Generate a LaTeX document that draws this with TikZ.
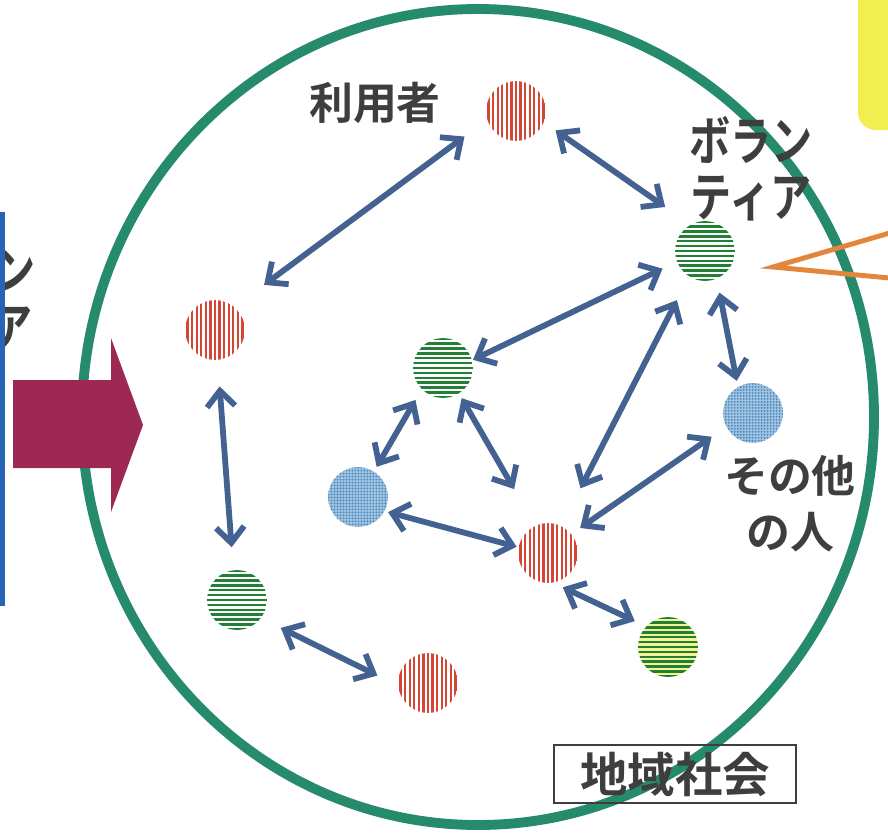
\documentclass[tikz,border=0pt]{standalone}
\usepackage{fontspec}
\newfontfamily\jpfont{Noto Sans CJK JP Bold}
\newfontfamily\jpnarrow{Noto Sans CJK JP Bold}[FakeStretch=0.78]
\usepackage{tikz}
\usetikzlibrary{arrows.meta, patterns.meta}
\usepackage{xcolor}

\definecolor{ringgreen}{RGB}{38,138,108}
\definecolor{linkblue}{RGB}{68,98,145}
\definecolor{stripered}{RGB}{214,70,52}
\definecolor{stripegreen}{RGB}{34,128,52}
\definecolor{dotblue}{RGB}{80,136,188}
\definecolor{paleblue}{RGB}{160,196,226}
\definecolor{labelgray}{RGB}{62,62,62}
\definecolor{arrowred}{RGB}{158,40,84}
\definecolor{sideblue}{RGB}{40,100,180}
\definecolor{noteyellow}{RGB}{240,238,80}
\definecolor{calloutorange}{RGB}{226,134,60}

\begin{document}
\begin{tikzpicture}[
    x=0.02cm, y=-0.02cm,
    dot/.style={circle, minimum size=34pt, inner sep=0pt},
    usr/.style={dot, path picture={
        \foreach \k in {-7,...,7}
          \draw[stripered, line width=1.3pt]
            ([xshift=\k*2.6pt]path picture bounding box.north) -- ([xshift=\k*2.6pt]path picture bounding box.south);
      }},
    vol/.style={dot, path picture={
        \foreach \k in {-6,...,6}
          \draw[stripegreen, line width=1.5pt]
            ([yshift=\k*2.8pt]path picture bounding box.west) -- ([yshift=\k*2.8pt]path picture bounding box.east);
      }},
    oth/.style={dot, preaction={fill=paleblue}, pattern={Dots[distance=1.7pt, radius=0.6pt]}, pattern color=dotblue},
    link/.style={{Straight Barb[length=9pt, width=16pt]}-{Straight Barb[length=9pt, width=16pt]}, line width=3.3pt, draw=linkblue},
    lbl/.style={text=labelgray, font=\jpfont\fontsize{25pt}{31.7pt}\selectfont, align=center, inner sep=0pt},
    kana/.style={lbl, font=\jpnarrow\fontsize{30pt}{31.7pt}\selectfont}
]
\useasboundingbox (0,0) rectangle (888,835);
\clip (0,0) rectangle (888,835);
\fill[white] (0,0) rectangle (888,835);

% Neighbouring panels
\fill[noteyellow, rounded corners=10pt] (858,-30) rectangle (930,130);
\node[kana, anchor=east] (cutA) at (36,270) {ン};
\node[kana, anchor=east] (cutB) at (33,328) {ア};
\fill[sideblue] (0,212) rectangle (5,606);

% Community ring
\draw[ringgreen, line width=5.6pt] (478,417) ellipse [x radius=396, y radius=408];

% Entry arrow and callout
\fill[arrowred] (13,380) -- (111,380) -- (111,338) -- (143,425) -- (111,512) -- (111,468) -- (13,468) -- cycle;
\draw[calloutorange, line width=2.8pt, line join=miter] (900,230) -- (773,267) -- (900,279);

% People
\node[usr] (usr1) at (516,111) {};
\node[usr] (usr2) at (215,330) {};
\node[usr] (usr3) at (548,553) {};
\node[usr] (usr4) at (428,683) {};
\node[vol] (vol1) at (705,251) {};
\node[vol] (vol2) at (443,368) {};
\node[vol] (vol3) at (237,600) {};
\node[vol, preaction={fill=noteyellow!60}] (vol4) at (668,647) {};
\node[oth] (oth1) at (753,413) {};
\node[oth] (oth2) at (358,497) {};

% Labels
\node[lbl] (lblusr) at (375,103) {利用者};
\node[kana] (lblvol) at (751,169) {ボラン\\ティア};
\node[lbl] (lbloth) at (790,504) {その他\\の人};
\node[draw=labelgray, line width=1.2pt, text=labelgray, font=\jpfont\fontsize{27pt}{32pt}\selectfont,
      minimum width=138pt, minimum height=33pt, inner sep=0pt] (region) at (675,774) {地域社会};

% Links
\draw[link, shorten <=21pt, shorten >=16pt] (usr2.50) -- (usr1.197);
\draw[link, shorten <=8pt, shorten >=17.5pt] (usr1.-22) -- (vol1.119);
\draw[link, shorten <=9pt, shorten >=0.5pt] (vol1.201) -- (vol2.15);
\draw[link, shorten <=15pt, shorten >=24pt] (vol1.238) -- (usr3.64);
\draw[link, shorten <=8pt, shorten >=3.5pt] (vol1.-67) -- (oth1.120);
\draw[link, shorten <=7pt, shorten >=3pt] (vol2.225) -- (oth2.58);
\draw[link, shorten <=3pt, shorten >=24pt] (vol2.-58) -- (usr3.115);
\draw[link, shorten <=2pt, shorten >=1pt] (oth2.-28) -- (usr3.169);
\draw[link, shorten <=6pt, shorten >=10pt] (usr3.39) -- (oth1.207);
\draw[link, shorten <=6pt, shorten >=7pt] (usr3.-80) -- (vol4.137);
\draw[link, shorten <=15pt, shorten >=13pt] (usr2.-85) -- (vol3.97);
\draw[link, shorten <=12.5pt, shorten >=13pt] (vol3.-37) -- (usr4.185);

\end{tikzpicture}
\end{document}
